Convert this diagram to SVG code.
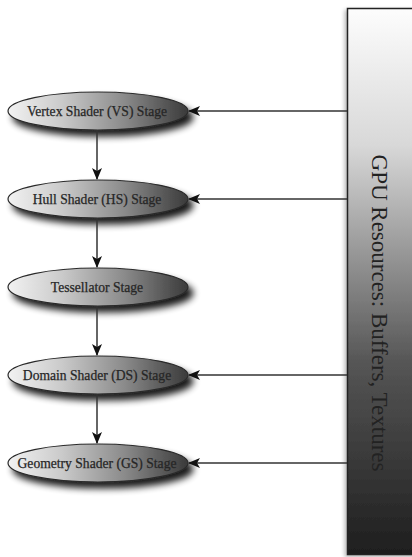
<svg xmlns="http://www.w3.org/2000/svg" width="412" height="557" viewBox="0 0 412 557">
<defs>
<linearGradient id="eg" x1="0" y1="0" x2="1" y2="0">
<stop offset="0" stop-color="#f2f2f2"/>
<stop offset="0.3" stop-color="#cacaca"/>
<stop offset="0.65" stop-color="#8a8a8a"/>
<stop offset="1" stop-color="#3a3a3a"/>
</linearGradient>
<linearGradient id="rg" x1="0" y1="0" x2="0" y2="1">
<stop offset="0" stop-color="#fdfdfd"/>
<stop offset="0.25" stop-color="#d8d8d8"/>
<stop offset="0.65" stop-color="#555"/>
<stop offset="1" stop-color="#1e1e1e"/>
</linearGradient>
<filter id="sh" x="-20%" y="-50%" width="150%" height="220%">
<feGaussianBlur in="SourceAlpha" stdDeviation="3.5"/>
<feOffset dx="5" dy="6" result="b"/>
<feComponentTransfer><feFuncA type="linear" slope="0.9"/></feComponentTransfer>
<feMerge><feMergeNode/><feMergeNode in="SourceGraphic"/></feMerge>
</filter>
<filter id="rsh" x="-20%" y="-5%" width="140%" height="110%">
<feGaussianBlur in="SourceAlpha" stdDeviation="2"/>
<feOffset dx="-2" dy="2"/>
<feComponentTransfer><feFuncA type="linear" slope="0.3"/></feComponentTransfer>
<feMerge><feMergeNode/><feMergeNode in="SourceGraphic"/></feMerge>
</filter>
<marker id="ah" markerWidth="12" markerHeight="10" refX="11" refY="5" orient="auto" markerUnits="userSpaceOnUse">
<path d="M0,0 L12,5 L0,10 L3,5 Z" fill="#111"/>
</marker>
<style>
.node ellipse{fill:url(#eg);stroke:#2a2a2a;stroke-width:1.2;filter:url(#sh)}
.node text{font-family:"Liberation Serif","Times New Roman",serif;font-size:13.6px;fill:#262626;stroke:#262626;stroke-width:0.25;text-anchor:middle}
.conn line{stroke:#333;stroke-width:1.5;marker-end:url(#ah)}
</style>
</defs>
<g id="gpu-resources">
<rect x="347.5" y="8.5" width="80" height="546" fill="url(#rg)" stroke="#222" stroke-width="1.5" filter="url(#rsh)"/>
<text transform="translate(372,313) rotate(90)" font-family="'Liberation Serif','Times New Roman',serif" font-size="23" fill="#222" text-anchor="middle">GPU Resources: Buffers, Textures</text>
</g>
<g id="vs" class="node"><ellipse cx="98" cy="111" rx="90" ry="19"/><text x="97" y="115.5">Vertex Shader (VS) Stage</text></g>
<g id="hs" class="node"><ellipse cx="98" cy="199" rx="90" ry="19"/><text x="97" y="203.5">Hull Shader (HS) Stage</text></g>
<g id="ts" class="node"><ellipse cx="98" cy="287" rx="90" ry="19"/><text x="97" y="291.5">Tessellator Stage</text></g>
<g id="ds" class="node"><ellipse cx="98" cy="375" rx="90" ry="19"/><text x="97" y="379.5">Domain Shader (DS) Stage</text></g>
<g id="gs" class="node"><ellipse cx="98" cy="463" rx="90" ry="19"/><text x="97" y="467.5">Geometry Shader (GS) Stage</text></g>
<g id="connectors" class="conn">
<line x1="97" y1="130" x2="97" y2="179"/>
<line x1="97" y1="218" x2="97" y2="267"/>
<line x1="97" y1="306" x2="97" y2="355"/>
<line x1="97" y1="394" x2="97" y2="443"/>
<line x1="347" y1="111" x2="189" y2="111"/>
<line x1="347" y1="199" x2="189" y2="199"/>
<line x1="347" y1="375" x2="189" y2="375"/>
<line x1="347" y1="463" x2="189" y2="463"/>
</g>
</svg>
